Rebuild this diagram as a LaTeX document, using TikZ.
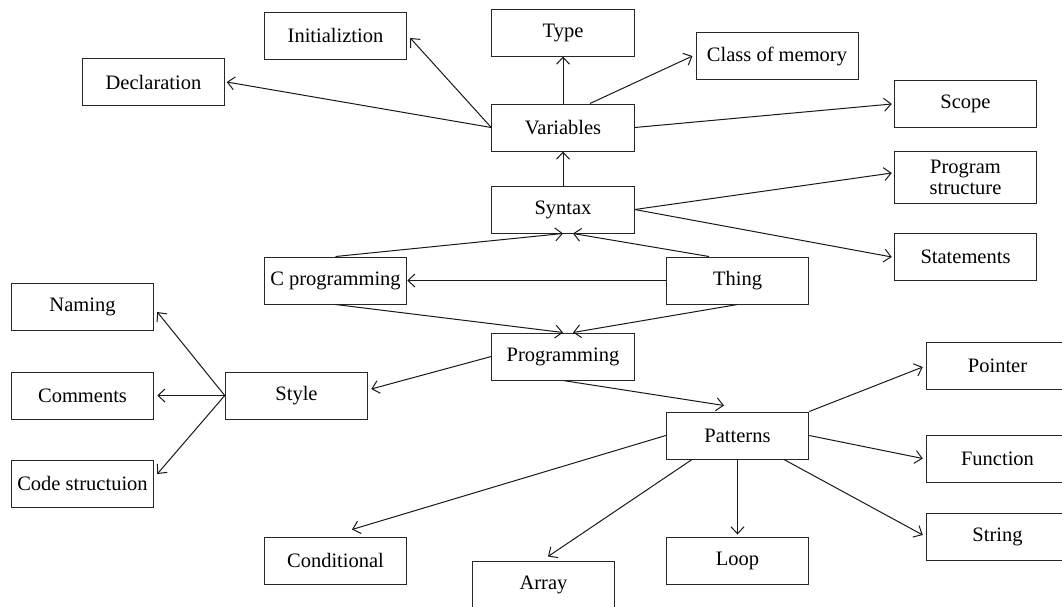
\documentclass[tikz,border=0pt]{standalone}
\usepackage{fontspec}
\setmainfont{Liberation Serif}
\usetikzlibrary{arrows.meta}
\tikzset{
  box/.style={draw=black!85, line width=1pt, minimum width=142.5pt, minimum height=47pt,
    inner sep=0pt, align=center, font=\fontsize{20.5}{21}\selectfont},
  arr/.style={draw=black!90, line width=1pt, -{Straight Barb[length=7pt,width=13pt,line width=1pt]}},
}
\begin{document}
\begin{tikzpicture}[x=1pt,y=-1pt]
\useasboundingbox (0,0) rectangle (1062,606);
\clip (0,0) rectangle (1062,606);
\fill[white] (0,0) rectangle (1062,606);
% nodes
\node[box] (init) at (335.5,35.5) {Initializtion};
\node[box] (decl) at (153.5,82) {Declaration};
\node[box] (type) at (563,32.5) {Type};
\node[box, minimum width=162pt] (classmem) at (777,56) {Class of memory};
\node[box] (vars) at (563,127.5) {Variables};
\node[box] (scope) at (965.5,104) {Scope};
\node[box] (syntax) at (563,209.5) {Syntax};
\node[box, minimum height=52pt] (progstruct) at (965.5,177) {Program\\structure};
\node[box] (statements) at (965.5,257) {Statements};
\node[box] (cprog) at (335.5,280.5) {C programming};
\node[box] (thing) at (737.5,280.5) {Thing};
\node[box] (naming) at (82.5,306.5) {Naming};
\node[box] (programming) at (563,356.5) {Programming};
\node[box] (style) at (296.5,395.5) {Style};
\node[box] (comments) at (82.5,395.5) {Comments};
\node[box] (pointer) at (997.5,365.5) {Pointer};
\node[box] (patterns) at (737.5,435.5) {Patterns};
\node[box] (function) at (997.5,458.5) {Function};
\node[box] (codestruct) at (82.5,483.5) {Code structuion};
\node[box] (string) at (997.5,537) {String};
\node[box] (conditional) at (335.5,560.5) {Conditional};
\node[box] (loop) at (737.5,560.5) {Loop};
\node[box] (array) at (543.5,584.5) {Array};
% connectors
\draw[arr] (vars.west) -- ([xshift=3pt,yshift=-2.5pt]init.east);
\draw[arr] (vars.west) -- ([xshift=1.5pt]decl.east);
\draw[arr] (vars.north) -- (type.south);
\draw[arr] ([xshift=27pt]vars.north) -- ([xshift=-3pt]classmem.west);
\draw[arr] (vars.east) -- ([xshift=-2pt]scope.west);
\draw[arr] (syntax.north) -- (vars.south);
\draw[arr] (syntax.east) -- ([xshift=-2pt,yshift=4pt]progstruct.west);
\draw[arr] (syntax.east) -- ([xshift=-2pt]statements.west);
\draw[arr] (cprog.north) -- (syntax.south);
\draw[arr] ([xshift=-28.5pt]thing.north) -- ([xshift=10pt]syntax.south);
\draw[arr] (thing.west) -- (cprog.east);
\draw[arr] (cprog.south) -- (programming.north);
\draw[arr] (thing.south) -- ([xshift=10pt]programming.north);
\draw[arr] (programming.west) -- ([xshift=3pt,yshift=6.5pt]style.east);
\draw[arr] (programming.south) -- ([xshift=-13.5pt,yshift=6pt]patterns.north);
\draw[arr] (style.west) -- ([xshift=3pt,yshift=-5.5pt]naming.east);
\draw[arr] (style.west) -- ([xshift=3pt]comments.east);
\draw[arr] (style.west) -- ([xshift=3pt,yshift=9.5pt]codestruct.east);
\draw[arr] (patterns.north east) -- ([xshift=-3pt,yshift=-1.5pt]pointer.west);
\draw[arr] (patterns.east) -- ([xshift=-3pt]function.west);
\draw[arr] ([xshift=46.5pt]patterns.south) -- ([xshift=-3pt,yshift=2pt]string.west);
\draw[arr] (patterns.west) -- ([xshift=16.5pt,yshift=7pt]conditional.north);
\draw[arr] ([xshift=-45.5pt]patterns.south) -- ([xshift=4.5pt,yshift=4pt]array.north);
\draw[arr] (patterns.south) -- ([yshift=2pt]loop.north);
\end{tikzpicture}
\end{document}
